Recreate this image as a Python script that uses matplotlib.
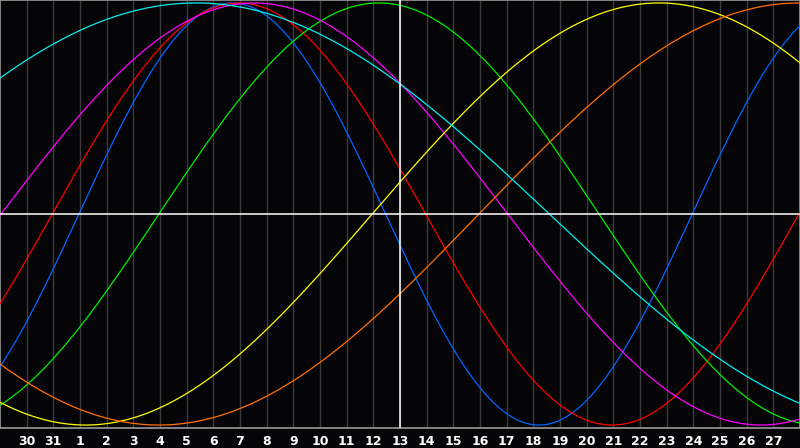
import numpy as np
import matplotlib
matplotlib.use("Agg")
import matplotlib.pyplot as plt

# cycle lengths (days) and the day offset (from the centre line) where each curve rises through zero
periods = [23, 28, 33, 38, 43, 48, 53]
rise_day = [-12.04, -13.04, -9.04, -14.96, -1.04, 2.96, -20.9]
colors = ['#0066ff', '#ff0000', '#00ee00', '#ff00ff', '#ffff00', '#ff7000', '#00eeee']

# day offsets and their labels along the bottom
tick_days = list(range(-14, 15))
tick_labels = ['30', '31'] + [str(d) for d in range(1, 28)]

bg = '#050508'
grid_color = '#3c3c3c'

fig = plt.figure(figsize=(8, 4.48), dpi=100, facecolor=bg)
ax = fig.add_axes([0, 20 / 448, 1, 428 / 448])
ax.set_facecolor(bg)

t = np.linspace(-15, 15, 1200)

# vertical day grid
for d in tick_days:
    ax.axvline(d, color=grid_color, lw=1.0, zorder=1)

# curves
for p, r, c in zip(periods, rise_day, colors):
    ax.plot(t, np.sin(2 * np.pi * (t - r) / p), color=c, lw=0.9, zorder=3)

# centre cross
ax.axvline(0, color='white', lw=1.1, zorder=4)
ax.axhline(0, color='white', lw=1.1, zorder=4)

ax.set_xlim(-15, 15)
ax.set_ylim(-1.014, 1.014)
ax.set_xticks(tick_days)
ax.set_xticklabels(tick_labels)
ax.tick_params(axis='x', length=0, pad=5, colors='white', labelsize=9)
for lbl in ax.get_xticklabels():
    lbl.set_fontweight('bold')
ax.set_yticks([])
for s in ax.spines.values():
    s.set_color('#9a9a9a')
    s.set_linewidth(1.2)

fig.savefig('out.png', dpi=100, facecolor=bg)
